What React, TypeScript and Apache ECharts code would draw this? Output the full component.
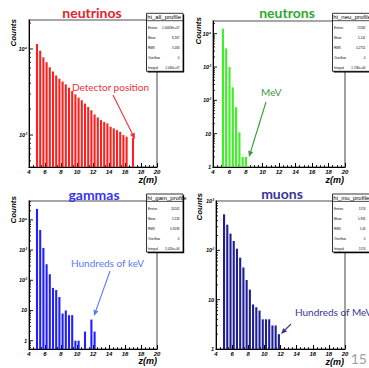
import React, { useEffect, useRef } from "react";
import * as echarts from "echarts";

// ---- data ----
const neutrinoZ = [5.0, 5.4, 5.8, 6.2, 6.6, 7.0, 7.4, 7.8, 8.2, 8.6, 9.0, 9.4, 9.8, 10.2, 10.6, 11.0, 11.4, 11.8, 12.2, 12.6, 13.0, 13.4, 13.8, 14.2, 14.6, 15.0, 15.4, 15.8, 16.2, 17.0];
const neutrinoCounts = [11420, 9560, 8000, 7000, 6130, 5470, 4920, 4510, 4200, 3875, 3550, 3245, 2970, 2720, 2535, 2320, 2120, 1940, 1730, 1600, 1490, 1420, 1365, 1250, 1195, 1140, 1090, 1000, 955, 930];

const neutronZ = [5.2, 5.6, 6.0, 6.4, 6.8, 7.2, 7.6, 8.0];
const neutronCounts = [14100, 3600, 1000, 245, 62, 11, 2, 2];

const gammaZ = [5.0, 5.4, 5.8, 6.2, 6.6, 7.0, 7.4, 7.8, 8.2, 8.6, 9.0, 9.4, 9.8, 10.2, 11.0, 11.8, 12.2];
const gammaCounts = [23100, 4600, 1180, 341, 158, 56, 48, 28, 8, 10, 7, 7, 1, 1, 2, 5, 2];

const muonZ = [5.0, 5.4, 5.8, 6.2, 6.6, 7.0, 7.4, 7.8, 8.2, 8.6, 9.0, 9.4, 9.8, 10.2, 10.6, 11.0, 11.4, 11.8];
const muonCounts = [537, 331, 218, 155, 108, 71, 45, 25, 16, 8, 7, 6, 4, 4, 4, 3, 3, 2];

const titles = ["neutrinos", "neutrons", "gammas", "muons"];
const histNames = ["hi_all_profile", "hi_neu_profile", "hi_gam_profile", "hi_mu_profile"];
const statLabels = ["Entries", "Mean", "RMS", "Overflow", "Integral"];
const statValues = [
  ["1.04309e+07", "8.267", "3.183", "0", "1.043e+07"],
  ["17082", "5.141", "0.2751", "0", "1.708e+04"],
  ["20202", "5.133", "0.3539", "0", "2.020e+04"],
  ["1574", "5.935", "1.03", "0", "1574"],
];
const annotations = ["Detector position", "MeV", "Hundreds of keV", "Hundreds of MeV"];
const xTickLabelInterval = 2;

// ---- layout / style ----
const panels = [
  { z: neutrinoZ, c: neutrinoCounts, grid: { left: 29, top: 20, width: 128, height: 147 }, yMin: 425, yMax: 21700,
    bar: "#ff1f1f", title: "#e8202a", note: "#ee2f3a", titlePos: [92, 12], box: [146.5, 13.3, 36.5], counts: [13, 19], zm: [157, 180],
    notePos: [72, 87], arrow: [113, 95, 135, 139] },
  { z: neutronZ, c: neutronCounts, grid: { left: 213, top: 21, width: 132, height: 146 }, yMin: 1, yMax: 24000,
    bar: "#40ee2a", title: "#2da82d", note: "#3a9a3a", titlePos: [287, 12], box: [332.5, 13.3, 40], counts: [198, 17], zm: [344, 180],
    notePos: [261, 92], arrow: [266, 102, 249, 157] },
  { z: gammaZ, c: gammaCounts, grid: { left: 29, top: 201, width: 128, height: 148 }, yMin: 0.53, yMax: 42200,
    bar: "#1f1fff", title: "#3636f0", note: "#5a7af0", titlePos: [94, 194], box: [146.5, 194, 36.5], counts: [13, 196], zm: [157, 361],
    notePos: [71, 263], arrow: [110, 271, 94, 316] },
  { z: muonZ, c: muonCounts, grid: { left: 216, top: 201, width: 129, height: 148 }, yMin: 1, yMax: 1000,
    bar: "#1e1e96", title: "#363696", note: "#363696", titlePos: [282, 193], box: [332.5, 194, 40], counts: [199, 193], zm: [344, 362],
    notePos: [295, 312], arrow: [291, 324, 281, 334] },
];

const sup = ["⁰", "¹", "²", "³", "⁴", "⁵"];
function logLabel(v: number) {
  const l = Math.log10(v);
  const r = Math.round(l);
  if (Math.abs(l - r) > 1e-4) return "";
  if (r === 0) return "1";
  if (r === 1) return "10";
  return "10" + sup[r];
}

function tickValues(min: number, max: number) {
  const out: number[][] = [];
  for (let k = Math.floor(Math.log10(min)); k <= Math.ceil(Math.log10(max)); k++) {
    for (let m = 1; m <= 9; m++) {
      const v = m * Math.pow(10, k);
      if (v > min * 1.0001 && v < max * 0.9999) out.push([4, v, m === 1 ? 4 : 2]);
    }
  }
  return out;
}

function arrow(x1: number, y1: number, x2: number, y2: number, color: string) {
  const ang = Math.atan2(y2 - y1, x2 - x1);
  const L = 6, H = 2.6;
  const bx = x2 - L * Math.cos(ang), by = y2 - L * Math.sin(ang);
  const px = -Math.sin(ang) * H, py = Math.cos(ang) * H;
  return [
    { type: "line", z: 100, shape: { x1, y1, x2: bx, y2: by }, style: { stroke: color, lineWidth: 1.1 } },
    { type: "polygon", z: 100, shape: { points: [[x2, y2], [bx + px, by + py], [bx - px, by - py]] }, style: { fill: color } },
  ];
}

function statBox(i: number) {
  const [x, y, w] = panels[i].box;
  const h = 58;
  const els: any[] = [
    { type: "rect", z: 100, shape: { x: x + 1.2, y: y + 1.2, width: w, height: h }, style: { fill: "#000" } },
    { type: "rect", z: 101, shape: { x, y, width: w, height: h }, style: { fill: "#fff", stroke: "#000", lineWidth: 0.8 } },
    { type: "line", z: 102, shape: { x1: x, y1: y + 7.4, x2: x + w, y2: y + 7.4 }, style: { stroke: "#000", lineWidth: 0.7 } },
    { type: "text", z: 102, x: x + 0.8, y: y + 4, style: { text: histNames[i], fontSize: 6, fontFamily: "Liberation Sans", fill: "#000", align: "left", verticalAlign: "middle" } },
  ];
  statLabels.forEach((lab, k) => {
    const ry = y + 14.5 + 10 * k;
    els.push({ type: "text", z: 102, x: x + 1.5, y: ry, style: { text: lab, fontSize: 3, fontFamily: "Liberation Sans", fill: "#000", align: "left", verticalAlign: "middle" } });
    els.push({ type: "text", z: 102, x: x + 33, y: ry, style: { text: statValues[i][k], fontSize: 3, fontFamily: "Liberation Sans", fill: "#000", align: "right", verticalAlign: "middle" } });
  });
  return els;
}

const tickFont = { fontSize: 6, fontWeight: "bold" as const, fontStyle: "italic" as const, fontFamily: "Liberation Sans", color: "#000" };

export default function App() {
  const ref = useRef<HTMLDivElement>(null);
  useEffect(() => {
    const chart = echarts.init(ref.current!, null, { renderer: "svg" });
    const grids = panels.map((p) => ({ ...p.grid, show: true, borderColor: "#8a8a8a", borderWidth: 1.6, backgroundColor: "transparent", containLabel: false }));
    const xAxes = panels.map((p, i) => ({
      type: "value", gridIndex: i, min: 4, max: 20, interval: xTickLabelInterval,
      axisLine: { show: true, onZero: false, lineStyle: { color: "#000", width: 1 } },
      axisTick: { show: true, inside: true, length: 4, lineStyle: { color: "#000", width: 1 } },
      minorTick: { show: true, splitNumber: 4, length: 2, lineStyle: { color: "#000", width: 0.8 } },
      axisLabel: { ...tickFont, margin: 2, showMinLabel: true, showMaxLabel: true },
      splitLine: { show: false },
    }));
    const yAxes = panels.map((p, i) => ({
      type: "log", logBase: 10, gridIndex: i, min: p.yMin, max: p.yMax,
      axisLine: { show: true, lineStyle: { color: "#000", width: 1 } },
      axisTick: { show: false },
      axisLabel: { ...tickFont, fontSize: 5.5, margin: 2, formatter: (v: number) => logLabel(v) },
      splitLine: { show: false },
    }));
    const series: any[] = [];
    panels.forEach((p, i) => {
      series.push({
        type: "custom", xAxisIndex: i, yAxisIndex: i, silent: true,
        data: p.z.map((x, j) => [x, p.c[j]]),
        encode: { x: 0, y: 1 },
        renderItem: (params: any, api: any) => {
          const top = api.coord([api.value(0), api.value(1)]);
          const bot = api.coord([api.value(0), p.yMin]);
          const w = api.size([0.26, 0])[0];
          return { type: "rect", shape: { x: top[0] - w / 2, y: top[1], width: w, height: bot[1] - top[1] }, style: { fill: p.bar } };
        },
        z: 3,
      });
      series.push({
        type: "custom", xAxisIndex: i, yAxisIndex: i, silent: true,
        data: tickValues(p.yMin, p.yMax),
        encode: { x: 0, y: 1 },
        renderItem: (params: any, api: any) => {
          const pt = api.coord([api.value(0), api.value(1)]);
          return { type: "line", shape: { x1: pt[0], y1: pt[1], x2: pt[0] + api.value(2), y2: pt[1] }, style: { stroke: "#000", lineWidth: 0.9 } };
        },
        z: 4,
      });
    });
    const graphics: any[] = [];
    panels.forEach((p, i) => {
      graphics.push({ type: "text", z: 100, x: p.titlePos[0], y: p.titlePos[1], style: { text: titles[i], fontSize: 14, fontWeight: "bold", fontFamily: "Lato", fill: p.title, align: "center", verticalAlign: "middle" } });
      graphics.push({ type: "text", z: 100, x: p.counts[0], y: p.counts[1], rotation: Math.PI / 2, style: { text: "Counts", fontSize: 8, fontWeight: "bold", fontStyle: "italic", fontFamily: "Liberation Sans", fill: "#000", align: "right", verticalAlign: "middle" } });
      graphics.push({ type: "text", z: 100, x: p.zm[0], y: p.zm[1], style: { text: "z(m)", fontSize: 9, fontWeight: "bold", fontStyle: "italic", fontFamily: "Liberation Sans", fill: "#000", align: "right", verticalAlign: "middle" } });
      graphics.push({ type: "text", z: 100, x: p.notePos[0], y: p.notePos[1], style: { text: annotations[i], fontSize: 10, fontFamily: "Lato", fill: p.note, align: "left", verticalAlign: "middle" } });
      const [x1, y1, x2, y2] = p.arrow;
      graphics.push(...arrow(x1, y1, x2, y2, p.note));
      graphics.push(...statBox(i));
    });
    graphics.push({ type: "text", z: 100, x: 367, y: 358, style: { text: "15", fontSize: 14, fontFamily: "Lato", fill: "#a0a0a0", align: "right", verticalAlign: "middle" } });

    chart.setOption({
      animation: false,
      backgroundColor: "#fff",
      grid: grids,
      xAxis: xAxes,
      yAxis: yAxes,
      series,
      graphic: graphics,
    });
    return () => chart.dispose();
  }, []);
  return <div ref={ref} style={{ position: "absolute", left: 0, top: 0, width: 369, height: 368 }} />;
}
